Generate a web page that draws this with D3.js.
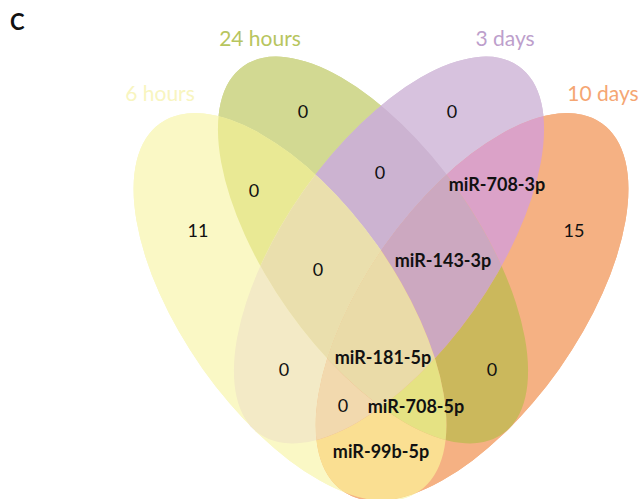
<!DOCTYPE html>
<html>
<head>
<meta charset="utf-8">
<script src="https://cdn.jsdelivr.net/npm/d3@7"></script>
<style>
  html, body { margin: 0; padding: 0; background: #fff; }
  svg { display: block; }
</style>
</head>
<body>
<svg id="venn" width="640" height="499"></svg>
<script>
// Four time points compared in the Venn diagram
const setNames = ["6 hours", "24 hours", "3 days", "10 days"];

// Each region is the exact combination of sets it belongs to
const regionSets = [
  [0], [1], [2], [3],
  [0, 1], [1, 2], [2, 3], [0, 2], [1, 3], [0, 3],
  [0, 1, 2], [1, 2, 3], [0, 1, 3], [0, 2, 3],
  [0, 1, 2, 3]
];

// What sits in each region: a count, or the shared miRNA
const regionLabels = [
  "11", "0", "0", "15",
  "0", "0", "miR-708-3p", "0", "0", "miR-99b-5p",
  "0", "miR-143-3p", "miR-708-5p", "0",
  "miR-181-5p"
];

// ---- styling and layout ----
const setLabelColors = ["#f8f5c0", "#b7c55e", "#bd9fcc", "#f5a673"];
const setSoloColors  = ["#faf8c5", "#d2d992", "#d7c2de", "#f5b183"];

const regionColors = [
  "#faf8c5", "#d2d992", "#d7c2de", "#f5b183",
  "#e9e994", "#ccb3d1", "#dba2c8", "#f3eac6", "#cbb85c", "#fadf92",
  "#eadfad", "#cca8c0", "#e5e283", "#f2d9ae",
  "#eadba8"
];

const W = 640, H = 499;
const tilt = 54.8;
const ellipses = [
  { cx: 290, cy: 307, rx: 225, ry: 107, rot:  tilt },
  { cx: 373, cy: 250, rx: 225, ry: 104, rot:  tilt },
  { cx: 389, cy: 250, rx: 225, ry: 104, rot: -tilt },
  { cx: 472, cy: 307, rx: 225, ry: 107, rot: -tilt }
];

const setLabelPos = [
  { x: 160, y: 101 },
  { x: 260, y: 46 },
  { x: 505, y: 46 },
  { x: 603, y: 101 }
];

const regionLabelPos = [
  [198, 231], [303, 112], [452, 112], [574, 231],
  [254, 191], [380, 173], [497, 185], [284, 370], [492, 370], [381, 452],
  [318, 270], [443, 261], [416, 407], [343, 406],
  [383, 358]
];

const svg = d3.select("#venn");
svg.append("rect").attr("width", W).attr("height", H).attr("fill", "#fff");

const defs = svg.append("defs");

function ellipseShape(sel, e) {
  return sel.attr("cx", 0).attr("cy", 0)
    .attr("rx", e.rx).attr("ry", e.ry)
    .attr("transform", `translate(${e.cx},${e.cy}) rotate(${e.rot})`);
}

// one clip path per set
ellipses.forEach((e, i) => {
  ellipseShape(defs.append("clipPath").attr("id", `set-clip-${i}`).append("ellipse"), e);
});

// base layer so region edges never show white seams
const base = svg.append("g");
[1, 2, 0, 3].forEach(i => {
  ellipseShape(base.append("ellipse"), ellipses[i]).attr("fill", setSoloColors[i]);
});

// each region: clipped to its sets, masked out of the others
const regionLayer = svg.append("g");
regionSets.forEach((members, r) => {
  const mask = defs.append("mask").attr("id", `region-mask-${r}`)
    .attr("maskUnits", "userSpaceOnUse")
    .attr("x", 0).attr("y", 0).attr("width", W).attr("height", H);
  mask.append("rect").attr("width", W).attr("height", H).attr("fill", "#fff");
  d3.range(setNames.length).filter(i => !members.includes(i)).forEach(i => {
    ellipseShape(mask.append("ellipse"), ellipses[i]).attr("fill", "#000");
  });

  let g = regionLayer;
  members.forEach(i => {
    g = g.append("g").attr("clip-path", `url(#set-clip-${i})`);
  });
  g.append("rect")
    .attr("width", W).attr("height", H)
    .attr("fill", regionColors[r])
    .attr("mask", `url(#region-mask-${r})`);
});

const font = "Lato, 'Open Sans', sans-serif";

// panel letter
svg.append("text")
  .attr("x", 10).attr("y", 30)
  .attr("font-family", font).attr("font-weight", 700)
  .attr("font-size", 22).attr("fill", "#111")
  .text("C");

// set titles
svg.append("g").selectAll("text")
  .data(setNames)
  .join("text")
  .attr("x", (d, i) => setLabelPos[i].x)
  .attr("y", (d, i) => setLabelPos[i].y)
  .attr("text-anchor", "middle")
  .attr("font-family", font)
  .attr("font-size", 21)
  .attr("fill", (d, i) => setLabelColors[i])
  .text(d => d);

// region contents
svg.append("g").selectAll("text")
  .data(regionLabels)
  .join("text")
  .attr("x", (d, i) => regionLabelPos[i][0])
  .attr("y", (d, i) => regionLabelPos[i][1])
  .attr("dy", "0.36em")
  .attr("text-anchor", "middle")
  .attr("font-family", font)
  .attr("font-size", 18)
  .attr("font-weight", d => d.startsWith("miR") ? 700 : 400)
  .attr("fill", "#111")
  .text(d => d);
</script>
</body>
</html>
